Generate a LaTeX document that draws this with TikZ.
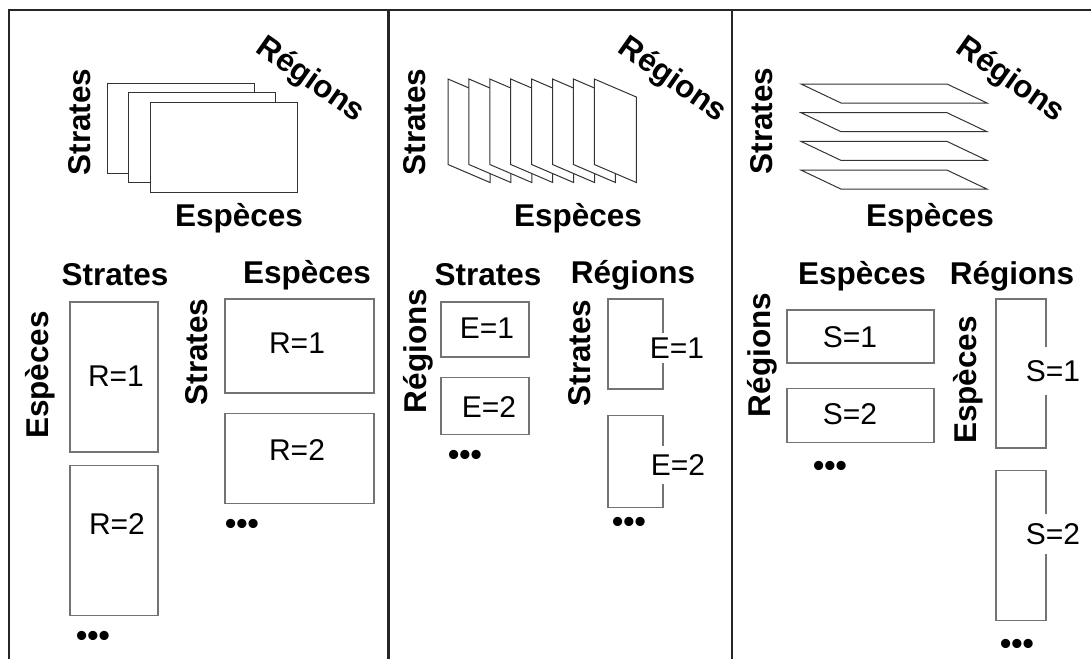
\documentclass[tikz,border=0pt]{standalone}
\usepackage{fontspec}
\setmainfont{Liberation Sans}
\usetikzlibrary{positioning}
\tikzset{
  frame/.style={line width=2.5pt,black!85},
  sheet/.style={draw=black!80,fill=white,line width=1pt},
  box/.style={draw=black!55,line width=1.5pt,rectangle},
  lab/.style={font=\fontsize{31.5}{36}\selectfont\bfseries},
  val/.style={font=\fontsize{30}{34}\selectfont,fill=white,inner sep=3pt},
  dots/.style={font=\fontsize{32}{36}\selectfont\bfseries,inner sep=0pt}
}
\begin{document}
\begin{tikzpicture}[x=1pt,y=-1pt]
\useasboundingbox (0,0) rectangle (1091,659);
\draw[frame](9,659)--(9,10)--(1091,10);
\draw[frame](388.5,10)--(388.5,659);
\draw[frame](732,10)--(732,659);

% Strates x Especes, une feuille par region
\foreach \i in {0,1,2}
  \draw[sheet]({107+21.5*\i},{83+9.5*\i}) rectangle ++(147,90);
\node[lab,rotate=90](1s) at (80,122){Strates};
\node[lab](1e) at (239,218){Espèces};
\node[lab,rotate=-35](1r) at (310,80){Régions};

\node[lab](1a) at (115,275){Strates};
\node[lab,rotate=90](1b) at (40,375){Espèces};
\node[box,minimum width=88pt,minimum height=150pt](1b1) at (114,377){};
\node[box,minimum width=88pt,minimum height=150pt,below=12pt of 1b1](1b2){};
\node[val](1v1) at (116,376){R=1};
\node[val](1v2) at (117,524){R=2};
\node[dots](1d1) at (93,639){•••};

\node[lab](1c) at (307,275){Espèces};
\node[lab,rotate=90](1f) at (197,352){Strates};
\node[box,minimum width=149pt,minimum height=94pt](1c1) at (299.5,346){};
\node[box,minimum width=149pt,minimum height=90pt,below=19pt of 1c1](1c2){};
\node[val](1w1) at (297,343){R=1};
\node[val](1w2) at (297,450){R=2};
\node[dots](1d2) at (242,527){•••};

% Strates x Regions, une feuille par espece
\foreach \i in {0,...,7}
  \draw[sheet]({448+20.9*\i},79)--++(42,18)--++(0,85.5)--++(-42,-18)--cycle;
\node[lab,rotate=90](2s) at (415,122){Strates};
\node[lab](2e) at (578,218){Espèces};
\node[lab,rotate=-35](2r) at (672,80){Régions};

\node[lab](2a) at (488,275){Strates};
\node[lab,rotate=90](2b) at (418,351){Régions};
\node[box,minimum width=88pt,minimum height=55pt](2b1) at (485,329.5){};
\node[box,minimum width=88pt,minimum height=57pt,below=19pt of 2b1](2b2){};
\node[val](2v1) at (487,328){E=1};
\node[val](2v2) at (489,407){E=2};
\node[dots](2d1) at (465,458){•••};

\node[lab](2c) at (633,275){Régions};
\node[lab,rotate=90](2f) at (580,353){Strates};
\node[box,minimum width=55pt,minimum height=90pt](2c1) at (635.5,344){};
\node[box,minimum width=55pt,minimum height=92pt,below=25pt of 2c1](2c2){};
\node[val,inner ysep=4.5pt](2w1) at (677,348){E=1};
\node[val,inner ysep=8.5pt](2w2) at (678,465){E=2};
\node[dots](2d2) at (629,525){•••};

% Especes x Regions, une feuille par strate
\foreach \i in {0,...,3}
  \draw[sheet](801,{84+28.7*\i})--++(146,0)--++(40,19)--++(-146,0)--cycle;
\node[lab,rotate=90](3s) at (762,121){Strates};
\node[lab](3e) at (930,218){Espèces};
\node[lab,rotate=-35](3r) at (1010,80){Régions};

\node[lab](3a) at (862,276){Espèces};
\node[lab,rotate=90](3b) at (762,355){Régions};
\node[box,minimum width=147pt,minimum height=53pt](3b1) at (860.5,336.5){};
\node[box,minimum width=147pt,minimum height=54pt,below=24pt of 3b1](3b2){};
\node[val](3v1) at (850,337){S=1};
\node[val](3v2) at (850,414){S=2};
\node[dots](3d1) at (830,469){•••};

\node[lab](3c) at (1012,276){Régions};
\node[lab,rotate=90](3f) at (968,380){Espèces};
\node[box,minimum width=50pt,minimum height=149pt](3c1) at (1021,373.5){};
\node[box,minimum width=50pt,minimum height=150pt,below=21pt of 3c1](3c2){};
\node[val,inner ysep=13pt](3w1) at (1053,371){S=1};
\node[val,inner ysep=9.5pt](3w2) at (1053,534){S=2};
\node[dots](3d2) at (1017,647){•••};
\end{tikzpicture}
\end{document}
